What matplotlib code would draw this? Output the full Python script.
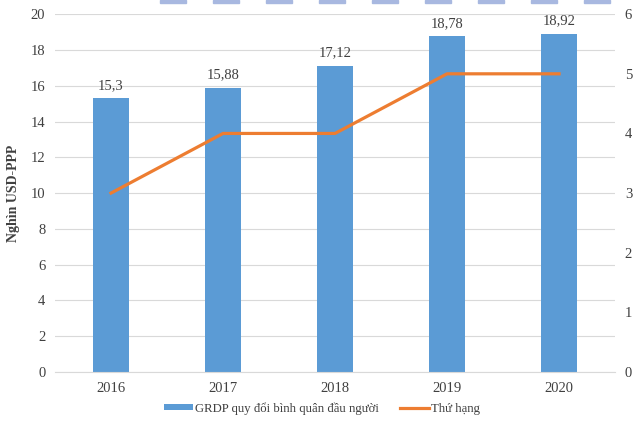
import matplotlib
matplotlib.use("Agg")
import matplotlib.pyplot as plt
from matplotlib.patches import Rectangle

years = ["2016", "2017", "2018", "2019", "2020"]
grdp = [15.3, 15.88, 17.12, 18.78, 18.92]
rank = [3, 4, 4, 5, 5]
grdp_labels = ["15,3", "15,88", "17,12", "18,78", "18,92"]

plt.rcParams['font.family'] = ['Liberation Serif', 'DejaVu Serif']

fig = plt.figure(figsize=(6.4, 4.3), dpi=100)
ax = fig.add_axes([0.086, 0.135, 0.875, 0.832])
ax2 = ax.twinx()

x = list(range(len(years)))
bars = ax.bar(x, grdp, width=0.32, color='#5b9bd5', label='GRDP quy đổi bình quân đầu người', zorder=2)
for xi, v, lab in zip(x, grdp, grdp_labels):
    ax.text(xi, v + 0.35, lab, ha='center', va='bottom', fontsize=10.5, color='#404040')

ax2.plot(x, rank, color='#ed7d31', lw=2.3, label='Thứ hạng', zorder=3)

ax.set_xlim(-0.5, 4.5)
ax.set_ylim(0, 20)
ax2.set_ylim(0, 6)
ax.set_yticks(range(0, 21, 2))
ax2.set_yticks(range(0, 7))
ax.set_xticks(x)
ax.set_xticklabels(years)
ax.grid(axis='y', color='#d9d9d9', lw=0.8, zorder=0)
ax.set_axisbelow(True)
for a in (ax, ax2):
    for s in a.spines.values():
        s.set_visible(False)
    a.tick_params(length=0, labelsize=10.5, labelcolor='#404040')
ax.spines['bottom'].set_visible(True)
ax.spines['bottom'].set_color('#d9d9d9')
ax.tick_params(axis='y', pad=7)
ax2.tick_params(axis='y', pad=7)
ax.tick_params(axis='x', pad=7)
ax.set_ylabel('Nghìn USD-PPP', fontsize=10, fontweight='bold', color='#404040', labelpad=8)

h1, l1 = ax.get_legend_handles_labels()
h2, l2 = ax2.get_legend_handles_labels()
fig.legend(h1 + h2, l1 + l2, loc='center', bbox_to_anchor=(0.503, 0.05), ncol=2,
           frameon=False, fontsize=9.2, handlelength=2.3, handleheight=0.4,
           handletextpad=0.15, columnspacing=1.6, labelcolor='#404040')

# strip of cut-off buttons at the very top of the screenshot
for left in [160, 213, 266, 319, 372, 425, 478, 531, 584]:
    fig.patches.append(Rectangle((left / 640, 1 - 3 / 430), 26 / 640, 3 / 430,
                                 transform=fig.transFigure, color='#a8b8e0', zorder=5))

fig.savefig('out.png', dpi=100)
